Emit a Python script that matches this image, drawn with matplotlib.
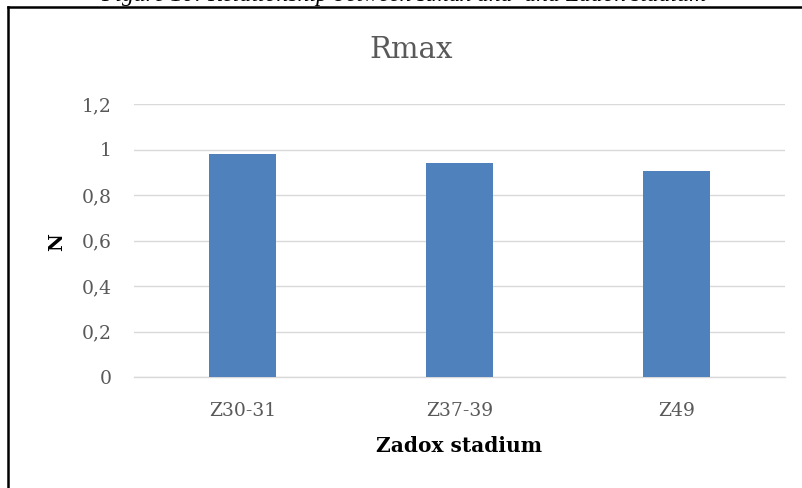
import matplotlib
matplotlib.use("Agg")
import matplotlib.pyplot as plt
from matplotlib.lines import Line2D

# Data
categories = ["Z30-31", "Z37-39", "Z49"]
rmax_values = [0.98, 0.94, 0.905]
y_ticks = [0, 0.2, 0.4, 0.6, 0.8, 1.0, 1.2]
y_tick_labels = ["0", "0,2", "0,4", "0,6", "0,8", "1", "1,2"]

W, H = 802, 488
fig = plt.figure(figsize=(W / 100, H / 100), dpi=100)
fig.patch.set_facecolor("white")

serif = ["DejaVu Serif"]
grey_text = "#595959"
grid_col = "#d9d9d9"
bar_col = "#4f81bd"

ax = fig.add_axes([134 / W, 1 - 377 / H, 651 / W, 273 / H])
x = list(range(len(categories)))
ax.bar(x, rmax_values, width=0.31, color=bar_col, zorder=3)
ax.set_xlim(-0.5, len(categories) - 0.5)
ax.set_ylim(0, 1.2)
ax.set_yticks(y_ticks)
ax.set_yticklabels(y_tick_labels, fontfamily=serif, fontsize=13.5, color=grey_text)
ax.set_xticks(x)
ax.set_xticklabels(categories, fontfamily=serif, fontsize=13.5, color=grey_text)
ax.tick_params(axis="both", length=0)
ax.tick_params(axis="y", pad=16)
ax.tick_params(axis="x", pad=18)
ax.yaxis.grid(True, color=grid_col, linewidth=1.0, zorder=0)
ax.set_axisbelow(True)
for s in ["top", "right", "left"]:
    ax.spines[s].set_visible(False)
ax.spines["bottom"].set_color(grid_col)
ax.spines["bottom"].set_linewidth(1.0)

# Chart title
fig.text(411 / W, 1 - 50 / H, "Rmax", ha="center", va="center",
         fontfamily=serif, fontsize=21, color=grey_text)
# Axis titles
fig.text(459 / W, 1 - 446 / H, "Zadox stadium", ha="center", va="center",
         fontfamily=serif, fontsize=14.5, fontweight="bold", color="black")
fig.text(57 / W, 1 - 242 / H, "N", ha="center", va="center", rotation=90,
         fontfamily=serif, fontsize=14, fontweight="bold", color="black")

# Figure caption along the top edge
fig.text(404 / W, 1 - 1 / H, "Figure 10: Relationship between Rmax and  and Zadok stadium",
         ha="center", va="baseline", fontfamily=["Liberation Serif"], fontstyle="italic",
         fontsize=17, color="black")

# Outer frame (left and top edges)
fig.add_artist(Line2D([8 / W, 8 / W], [0, 1 - 7 / H], transform=fig.transFigure,
                      color="black", linewidth=1.8))
fig.add_artist(Line2D([8 / W, 1], [1 - 7 / H, 1 - 7 / H], transform=fig.transFigure,
                      color="black", linewidth=1.8))

fig.savefig("out.png", dpi=100, facecolor="white")
